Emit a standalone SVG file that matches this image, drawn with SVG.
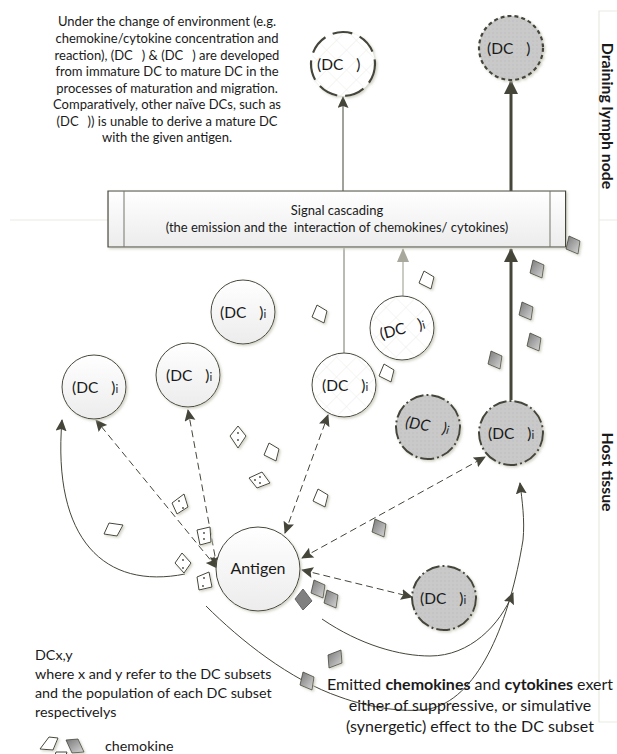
<svg xmlns="http://www.w3.org/2000/svg" width="617" height="754" viewBox="0 0 617 754">
<defs>
<style>
text{font-family:"Lato","Liberation Sans",sans-serif;fill:#1a1a1a;font-size:13px}
.c{text-anchor:middle}
.lab{font-size:15.5px}
.sub{font-size:11.5px}
.big{font-size:16px}
.leg{font-size:14.3px}
.lane{font-size:15.8px;font-weight:700;text-anchor:middle}
.lanel{fill:none;stroke:#e9e9e2;stroke-width:1.2}
.con{fill:none;stroke:#45453a;stroke-width:1}
.dash{stroke-dasharray:7 4}
.cell{stroke:#45453a;stroke-width:1;filter:url(#sh)}
.plain{fill:url(#gw)}
.hatch{fill:url(#ph)}
.gray{fill:url(#pg);stroke-width:2;stroke-dasharray:14 3 2 3}
.w{fill:#fff;stroke:#45453a;stroke-width:1;filter:url(#sh)}
.g{fill:url(#gg);stroke:#45453a;stroke-width:.8;filter:url(#sh)}
.dot{fill:#45453a}
</style>
<linearGradient id="gw" x1="0" y1="0" x2="0" y2="1"><stop offset="0" stop-color="#fff"/><stop offset="1" stop-color="#ececec"/></linearGradient>
<linearGradient id="gg" x1="0" y1="0" x2="1" y2="1"><stop offset="0" stop-color="#777"/><stop offset="1" stop-color="#d8d8d8"/></linearGradient>
<pattern id="ph" width="14" height="14" patternUnits="userSpaceOnUse" patternTransform="rotate(45)"><rect width="14" height="14" fill="#fff"/><path d="M0,0H14M0,0V14" stroke="#eeeeea" stroke-width="1.2"/></pattern>
<pattern id="pg" width="4" height="4" patternUnits="userSpaceOnUse"><rect width="4" height="4" fill="#c9c9c9"/><circle cx="1" cy="1" r=".7" fill="#bcbcbc"/></pattern>
<filter id="sh" x="-20%" y="-20%" width="150%" height="150%"><feDropShadow dx="1.5" dy="1.5" stdDeviation="1" flood-color="#c9c9ba" flood-opacity=".8"/></filter>
<marker id="ah" markerWidth="14" markerHeight="12" refX="11" refY="5.5" orient="auto" markerUnits="userSpaceOnUse"><path d="M0,0L12,5.5L0,11L2,5.5Z" fill="#45453a"/></marker>
<marker id="as" markerWidth="14" markerHeight="12" refX="1" refY="5.5" orient="auto" markerUnits="userSpaceOnUse"><path d="M12,0L0,5.5L12,11L10,5.5Z" fill="#45453a"/></marker>
<marker id="at" markerWidth="16" markerHeight="16" refX="13" refY="7" orient="auto" markerUnits="userSpaceOnUse"><path d="M0,0L14,7L0,14Z" fill="#45453a"/></marker>
<marker id="al" markerWidth="16" markerHeight="14" refX="13" refY="6" orient="auto" markerUnits="userSpaceOnUse"><path d="M0,0L14,6L0,12Z" fill="#a8a89c"/></marker>
<path id="pw" class="w" d="M-3,-9L7,-3L4,9L-8,3Z"/>
<path id="pg1" class="g" d="M-4,-9L7,-4L5,9L-7,4Z"/>
</defs>

<g id="lanes">
<path class="lanel" d="M617,11H599V722H617M599,220H617M10,220H108"/>
<text class="lane" transform="translate(602,116) rotate(90)">Draining lymph node</text>
<text class="lane" transform="translate(602,472) rotate(90)">Host tissue</text>
</g>

<g id="connectors">
<path class="con" d="M343,191V97" marker-end="url(#ah)"/>
<path class="con" d="M511,191V81" style="stroke-width:3" marker-end="url(#at)"/>
<path class="con" d="M344,353V248" style="stroke:#77776c"/>
<path class="con" d="M403,296V249" style="stroke:#a8a89c;stroke-width:1.2" marker-end="url(#al)"/>
<path class="con" d="M511,400V249" style="stroke-width:3" marker-end="url(#at)"/>
<path class="con dash" d="M217,568L96,420" marker-start="url(#as)" marker-end="url(#ah)"/>
<path class="con dash" d="M217,567L188,410" marker-start="url(#as)" marker-end="url(#ah)"/>
<path class="con dash" d="M285,533L328,415" marker-start="url(#as)" marker-end="url(#ah)"/>
<path class="con dash" d="M302,558L485,457" marker-start="url(#as)" marker-end="url(#ah)"/>
<path class="con dash" d="M302,570L412,597" marker-start="url(#as)" marker-end="url(#ah)"/>
<path class="con" d="M185,574C105,590 52,540 62,420" marker-end="url(#ah)"/>
<path class="con" d="M322,619C360,645 400,656 430,656C470,656 500,625 513,593" marker-end="url(#ah)"/>
<path class="con" d="M206,606C240,640 290,680 340,697C370,708 410,714 433,708C480,695 510,620 523,540C525,520 522,500 520,483" marker-end="url(#ah)"/>
</g>

<g id="band"><path class="cell plain" d="M108,191H565.6V247H108Z" style="stroke-width:1.2"/><path d="M124,191V247M550,191V247" stroke="#77776c" stroke-width="1" fill="none"/>
<text class="c" x="337" y="215">Signal cascading</text>
<text class="c" x="337" y="232" xml:space="preserve">(the emission and the  interaction of chemokines/ cytokines)</text></g>

<g id="note"><text class="c" x="167" y="26">Under the change of environment (e.g.</text>
<text class="c" x="167" y="43">chemokine/cytokine concentration and</text>
<text class="c" x="167" y="60">reaction), (DC<tspan dx="9">) &amp; (DC</tspan><tspan dx="9">) are developed</tspan></text>
<text class="c" x="167" y="76">from immature DC to mature DC in the</text>
<text class="c" x="167" y="93">processes of maturation and migration.</text>
<text class="c" x="167" y="109">Comparatively, other naïve DCs, such as</text>
<text class="c" x="167" y="126">(DC<tspan dx="9">)) is unable to derive a mature DC</tspan></text>
<text class="c" x="167" y="142">with the given antigen.</text></g>

<g id="dc-m1"><circle class="cell hatch" cx="343" cy="64" r="32" style="stroke-width:2.2;stroke-dasharray:20 8"/><text class="lab" x="317" y="70">(DC<tspan dx="13">)</tspan></text></g>
<g id="dc-m2"><circle class="cell" cx="511" cy="48" r="32" style="fill:url(#pg);stroke-width:2.2;stroke-dasharray:4 3"/><text class="lab" x="487" y="54">(DC<tspan dx="13">)</tspan></text></g>
<g id="dc-a"><circle class="cell plain" cx="243" cy="312" r="32"/><text class="lab" x="220" y="318">(DC<tspan dx="13">)</tspan><tspan class="sub">i</tspan></text></g>
<g id="dc-b"><circle class="cell plain" cx="188" cy="375" r="32"/><text class="lab" x="166" y="381">(DC<tspan dx="13">)</tspan><tspan class="sub">i</tspan></text></g>
<g id="dc-c"><circle class="cell plain" cx="94" cy="387" r="32"/><text class="lab" x="72" y="393">(DC<tspan dx="13">)</tspan><tspan class="sub">i</tspan></text></g>
<g id="dc-d"><circle class="cell hatch" cx="344" cy="385" r="32"/><text class="lab" x="322" y="391">(DC<tspan dx="13">)</tspan><tspan class="sub">i</tspan></text></g>
<g id="dc-e"><circle class="cell hatch" cx="402" cy="328" r="32"/><text class="lab" transform="rotate(-14 402 328)" x="379" y="334">(DC<tspan dx="13">)</tspan><tspan class="sub">i</tspan></text></g>
<g id="dc-f"><circle class="cell gray" cx="428" cy="427" r="32"/><text class="lab" transform="rotate(9 428 427)" x="405" y="431" font-style="italic">(DC<tspan dx="13">)</tspan><tspan class="sub">i</tspan></text></g>
<g id="dc-g"><circle class="cell gray" cx="511" cy="433" r="32"/><text class="lab" x="488" y="439">(DC<tspan dx="13">)</tspan><tspan class="sub">i</tspan></text></g>
<g id="dc-h"><circle class="cell gray" cx="444" cy="598" r="32"/><text class="lab" x="420" y="604">(DC<tspan dx="13">)</tspan><tspan class="sub">i</tspan></text></g>
<g id="antigen"><circle class="cell plain" cx="258" cy="569" r="42"/><text class="c" x="258" y="574" style="font-size:16px">Antigen</text></g>

<g id="tokens">
<use href="#pw" x="320" y="314"/><use href="#pw" x="427" y="280"/><use href="#pw" x="387" y="373"/><use href="#pw" x="321" y="498"/><use href="#pw" x="272" y="452"/>
<path class="w" transform="translate(113,529)" d="M-4,-6L10,-4L4,7L-9,5Z"/>
<g transform="translate(238,437)"><path class="w" d="M0,-11L8,-1L0,11L-8,-1Z"/><circle class="dot" cx="0" cy="-4" r=".9"/><circle class="dot" cx="0" cy="3" r=".9"/></g>
<g transform="translate(259,480)"><path class="w" d="M-10,-2L3,-8L11,3L-2,8Z"/><circle class="dot" cx="-4" cy="0" r=".9"/><circle class="dot" cx="1" cy="-3" r=".9"/><circle class="dot" cx="1" cy="3" r=".9"/></g>
<g transform="translate(180,504)"><path class="w" d="M-8,-1L4,-10L8,3L-3,10Z"/><circle class="dot" cx="-1" cy="-3" r=".9"/><circle class="dot" cx="3" cy="4" r=".9"/></g>
<g transform="translate(204,536)"><path class="w" d="M-7,-6L6,-9L7,6L-4,9Z"/><circle class="dot" cx="0" cy="-3" r=".9"/><circle class="dot" cx="0" cy="3" r=".9"/></g>
<g transform="translate(183,563)"><path class="w" d="M-8,0L-1,-10L8,0L1,10Z"/><circle class="dot" cx="0" cy="-3" r=".9"/><circle class="dot" cx="0" cy="5" r=".9"/></g>
<g transform="translate(204,581)"><path class="w" d="M-7,-4L5,-9L8,6L-5,9Z"/><circle class="dot" cx="0" cy="-3" r=".9"/><circle class="dot" cx="-1" cy="5" r=".9"/></g>
<use href="#pg1" x="573" y="245"/><use href="#pg1" x="537" y="269"/><use href="#pg1" x="526" y="311"/><use href="#pg1" x="534" y="342"/><use href="#pg1" x="495" y="360"/><use href="#pg1" x="379" y="528"/><use href="#pg1" x="318" y="589"/><use href="#pg1" x="331" y="599"/><use href="#pg1" x="307" y="681"/>
<path class="g" transform="translate(335,659)" d="M-7,-4L6,-9L7,4L-6,9Z"/>
<path d="M303,589L312,601L303,610L295,599Z" fill="#808080" stroke="#666"/>
<path class="w" transform="translate(49,743)" d="M0,-6L9,-5L4,7L-9,6Z"/>
<path class="g" transform="translate(75,746)" d="M-9,-6L3,-7L9,6L-3,7Z"/>
<path class="w" d="M56,752H67L65,758H54Z"/>
</g>

<g id="caption">
<text class="c big" x="470" y="690">Emitted <tspan font-weight="700">chemokines</tspan> and <tspan font-weight="700">cytokines</tspan> exert</text>
<text class="c big" x="470" y="711">either of suppressive, or simulative</text>
<text class="c big" x="470" y="732">(synergetic) effect to the DC subset</text>
</g>
<g id="legend">
<text class="leg" x="35" y="660">DCx,y</text>
<text class="leg" x="35" y="679">where x and y refer to the DC subsets</text>
<text class="leg" x="35" y="698">and the population of each DC subset</text>
<text class="leg" x="35" y="717">respectivelys</text>
<text class="leg" x="105" y="751">chemokine</text>
</g>
</svg>
